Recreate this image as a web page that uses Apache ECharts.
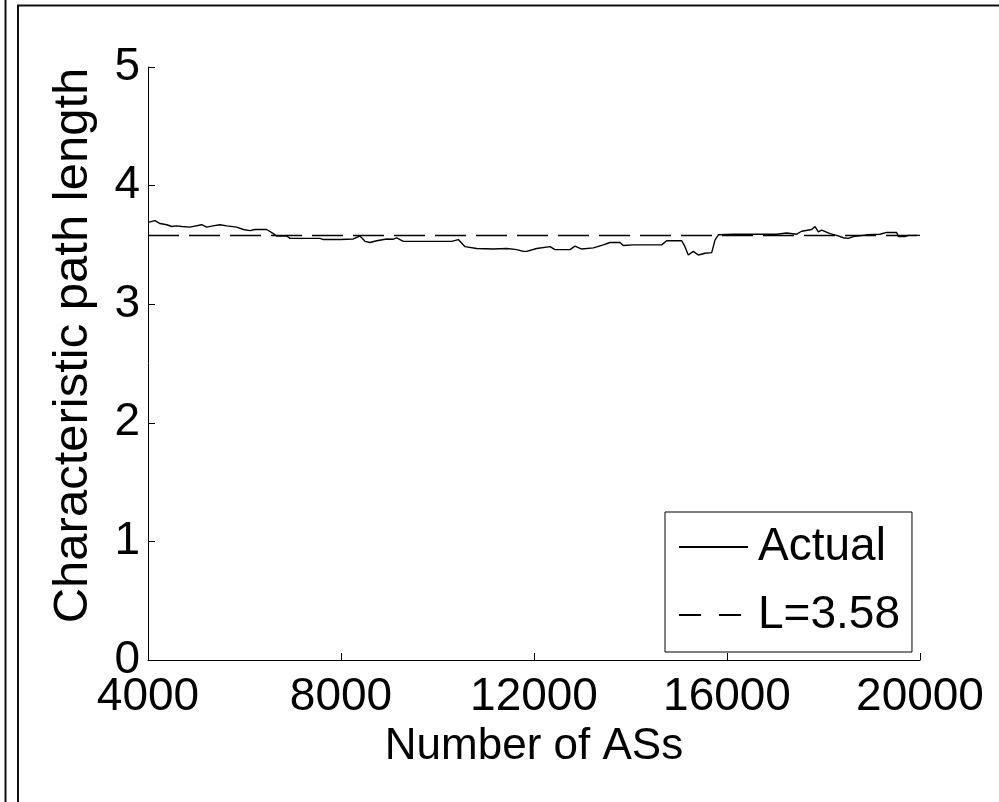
<!DOCTYPE html>
<html>
<head>
<meta charset="utf-8">
<script src="https://cdn.jsdelivr.net/npm/echarts@6/dist/echarts.min.js"></script>
<style>
html,body{margin:0;padding:0;background:#fff;}
#chart{width:999px;height:802px;}
</style>
</head>
<body>
<div id="chart"></div>
<script>
// Data
const asCounts = [4000, 4145, 4249, 4388, 4491, 4595, 4698, 4870, 5113, 5217, 5347, 5492, 5631, 5838, 5975, 6114, 6218, 6460, 6597, 6667, 6875, 6943, 7565, 7633, 7979, 8014, 8255, 8394, 8497, 8601, 8740, 8947, 9084, 9155, 9291, 10294, 10431, 10570, 10812, 11157, 11434, 11641, 11778, 11849, 12056, 12332, 12367, 12435, 12746, 12849, 12988, 13229, 13436, 13575, 13782, 13851, 14058, 14647, 14750, 15061, 15129, 15198, 15302, 15405, 15544, 15683, 15751, 15820, 16131, 17030, 17237, 17444, 17548, 17755, 17824, 17893, 17962, 18135, 18273, 18411, 18514, 18618, 18895, 19171, 19309, 19517, 19550, 19689, 19757, 20000];
const pathLength = [3.69, 3.705, 3.68, 3.67, 3.655, 3.66, 3.655, 3.65, 3.67, 3.65, 3.66, 3.67, 3.66, 3.65, 3.63, 3.62, 3.63, 3.63, 3.595, 3.575, 3.575, 3.555, 3.555, 3.545, 3.545, 3.55, 3.55, 3.575, 3.53, 3.52, 3.535, 3.55, 3.548, 3.56, 3.53, 3.53, 3.545, 3.485, 3.47, 3.465, 3.47, 3.46, 3.445, 3.445, 3.47, 3.485, 3.50, 3.46, 3.46, 3.49, 3.465, 3.475, 3.50, 3.52, 3.52, 3.495, 3.50, 3.50, 3.535, 3.535, 3.485, 3.415, 3.445, 3.415, 3.43, 3.435, 3.54, 3.585, 3.59, 3.59, 3.60, 3.59, 3.615, 3.63, 3.655, 3.61, 3.625, 3.595, 3.58, 3.56, 3.555, 3.57, 3.585, 3.59, 3.605, 3.605, 3.57, 3.57, 3.58, 3.58];
const refValue = 3.58;
const refRange = [4000, 20000];
const seriesNames = ['Actual', 'L=3.58'];
const xTicks = [4000, 8000, 12000, 16000, 20000];
const yTicks = [0, 1, 2, 3, 4, 5];

const FONT = "'Liberation Sans', Arial, Helvetica, sans-serif";
const actualData = asCounts.map((x, i) => [x, pathLength[i]]);
const refData = refRange.map(x => [x, refValue]);

const chart = echarts.init(document.getElementById('chart'), null, {renderer: 'canvas'});
chart.setOption({
  animation: false,
  backgroundColor: '#ffffff',
  textStyle: {fontFamily: FONT, color: '#000'},
  graphic: [
    {type: 'line', shape: {x1: 5.5, y1: 0, x2: 5.5, y2: 802}, style: {stroke: '#111', lineWidth: 2}},
    {type: 'line', shape: {x1: 18, y1: 5, x2: 18, y2: 802}, style: {stroke: '#111', lineWidth: 2}},
    {type: 'line', shape: {x1: 17, y1: 5.5, x2: 999, y2: 5.5}, style: {stroke: '#111', lineWidth: 2}}
  ],
  grid: {left: 148, top: 67, right: 79, bottom: 142, containLabel: false},
  legend: {
    orient: 'vertical',
    left: 665,
    top: 512,
    backgroundColor: '#fff',
    borderColor: '#000',
    borderWidth: 1,
    borderRadius: 0,
    padding: [12, 12, 14, 13],
    itemWidth: 69,
    itemHeight: 14,
    itemGap: 22,
    itemStyle: {opacity: 0},
    textStyle: {fontFamily: FONT, fontSize: 46, color: '#000', lineHeight: 46, padding: [0, 0, 0, 5]},
    data: [
      {name: seriesNames[0]},
      {name: seriesNames[1], lineStyle: {type: [22, 18]}}
    ]
  },
  xAxis: {
    type: 'value',
    min: xTicks[0],
    max: xTicks[xTicks.length - 1],
    interval: xTicks[1] - xTicks[0],
    name: 'Number of ASs',
    nameLocation: 'middle',
    nameGap: 64,
    nameTextStyle: {fontFamily: FONT, fontSize: 44, color: '#000'},
    axisLine: {show: true, lineStyle: {color: '#000', width: 1}},
    axisTick: {show: true, inside: true, length: 7, lineStyle: {color: '#000', width: 1}},
    axisLabel: {fontFamily: FONT, fontSize: 46, color: '#000', margin: 14, formatter: v => String(v)},
    splitLine: {show: false}
  },
  yAxis: {
    type: 'value',
    min: yTicks[0],
    max: yTicks[yTicks.length - 1],
    interval: 1,
    name: 'Characteristic path length',
    nameLocation: 'middle',
    nameRotate: 90,
    nameGap: 50,
    nameTextStyle: {fontFamily: FONT, fontSize: 49, color: '#000', padding: [0, 0, 0, 36]},
    axisLine: {show: true, lineStyle: {color: '#000', width: 1}},
    axisTick: {show: true, inside: true, length: 7, lineStyle: {color: '#000', width: 1}},
    axisLabel: {fontFamily: FONT, fontSize: 46, color: '#000', margin: 8},
    splitLine: {show: false}
  },
  series: [
    {
      name: seriesNames[0],
      type: 'line',
      data: actualData,
      symbol: 'none',
      lineStyle: {color: '#000', width: 1.4},
      itemStyle: {color: '#000'},
      z: 3
    },
    {
      name: seriesNames[1],
      type: 'line',
      data: refData,
      symbol: 'none',
      lineStyle: {color: '#000', width: 1.5, type: [31, 10]},
      itemStyle: {color: '#000'},
      z: 2
    }
  ]
});
</script>
</body>
</html>
